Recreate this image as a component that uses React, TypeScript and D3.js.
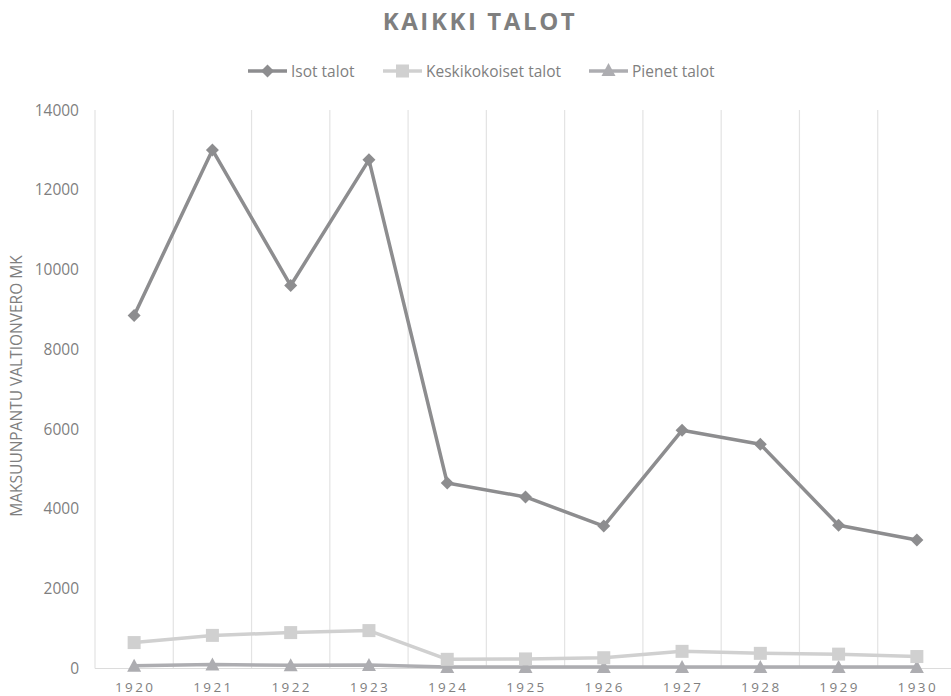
import React from "react";
import * as d3 from "d3";

const years = ["1920", "1921", "1922", "1923", "1924", "1925", "1926", "1927", "1928", "1929", "1930"];
const isotTalot = [8850, 13000, 9600, 12750, 4650, 4300, 3570, 5970, 5620, 3590, 3220];
const keskikokoisetTalot = [650, 830, 900, 950, 230, 240, 270, 430, 380, 360, 300];
const pienetTalot = [70, 100, 80, 85, 40, 40, 40, 40, 40, 40, 40];
const yTicks = [0, 2000, 4000, 6000, 8000, 10000, 12000, 14000];

const W = 951;
const H = 696;
const left = 95;
const right = 956;
const top = 110;
const bottom = 668.5;
const font = "'Open Sans', 'Noto Sans', sans-serif";
const textColor = "#7f7f7f";

const series = [
  { name: "Isot talot", values: isotTalot, color: "#8d8d8f", marker: "diamond" },
  { name: "Keskikokoiset talot", values: keskikokoisetTalot, color: "#d0d0d0", marker: "square" },
  { name: "Pienet talot", values: pienetTalot, color: "#adadb1", marker: "triangle" },
];

function Marker({ type, x, y, color }: { type: string; x: number; y: number; color: string }) {
  if (type === "diamond") {
    const s = 6.5;
    return <path d={`M${x},${y - s}L${x + s},${y}L${x},${y + s}L${x - s},${y}Z`} fill={color} />;
  }
  if (type === "square") {
    const s = 6.5;
    return <rect x={x - s} y={y - s} width={2 * s} height={2 * s} fill={color} />;
  }
  const s = 7;
  return <path d={`M${x},${y - s}L${x + s},${y + 6}L${x - s},${y + 6}Z`} fill={color} />;
}

export default function App() {
  const x = d3.scaleBand<string>().domain(years).range([left, right]).paddingInner(0).paddingOuter(0);
  const y = d3.scaleLinear().domain([0, 14000]).range([bottom, top]);
  const cx = (d: string) => (x(d) as number) + x.bandwidth() / 2;
  const line = d3
    .line<number>()
    .x((_, i) => cx(years[i]))
    .y((v) => y(v));

  const legendItems = [
    { ...series[0], lx: 248, tx: 291 },
    { ...series[1], lx: 383, tx: 426 },
    { ...series[2], lx: 589, tx: 632 },
  ];

  return (
    <svg width={W} height={H} style={{ position: "absolute", left: 0, top: 0 }} fontFamily={font}>
      <rect width={W} height={H} fill="#ffffff" />
      <text x={480} y={30} textAnchor="middle" fontSize={24} fontWeight="bold" fill={textColor} letterSpacing={2.6}>
        KAIKKI TALOT
      </text>
      {legendItems.map((s) => (
        <g key={s.name}>
          <line x1={s.lx} x2={s.lx + 39} y1={71} y2={71} stroke={s.color} strokeWidth={3.5} />
          <Marker type={s.marker} x={s.lx + 19.5} y={s.marker === "triangle" ? 70 : 71} color={s.color} />
          <text x={s.tx} y={76.5} fontSize={15.5} fill={textColor}>
            {s.name}
          </text>
        </g>
      ))}
      {/* vertical gridlines at category boundaries */}
      {years.map((d) => (
        <line key={d} x1={x(d)} x2={x(d)} y1={top} y2={bottom} stroke="#e3e3e3" strokeWidth={1.2} />
      ))}
      <line x1={left} x2={right} y1={bottom} y2={bottom} stroke="#dcdcdc" strokeWidth={1.2} />
      {yTicks.map((t) => (
        <text key={t} x={79} y={y(t) + 5.5} textAnchor="end" fontSize={15.5} fill={textColor}>
          {t}
        </text>
      ))}
      {years.map((d) => (
        <text key={d} x={cx(d) + 1} y={692} textAnchor="middle" fontSize={13.5} fill={textColor} letterSpacing={2.4}>
          {d}
        </text>
      ))}
      <text
        transform={`translate(22,386) rotate(-90)`}
        textAnchor="middle"
        fontSize={15.5}
        fill={textColor}
      >
        MAKSUUNPANTU VALTIONVERO MK
      </text>
      {series
        .slice()
        .reverse()
        .map((s) => (
          <g key={s.name}>
            <path d={line(s.values) as string} fill="none" stroke={s.color} strokeWidth={3.5} strokeLinejoin="round" />
            {s.values.map((v, i) => (
              <Marker key={i} type={s.marker} x={cx(years[i])} y={y(v)} color={s.color} />
            ))}
          </g>
        ))}
    </svg>
  );
}
